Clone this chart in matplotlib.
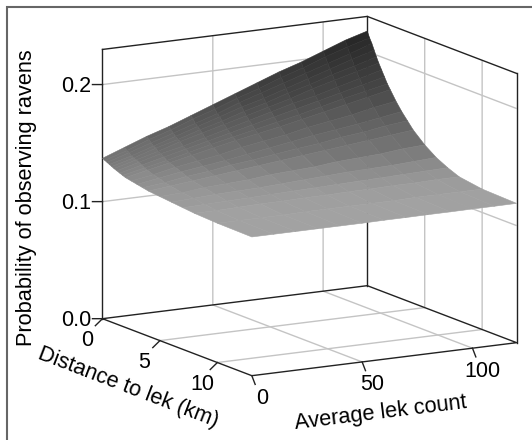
import numpy as np
import matplotlib
matplotlib.use('Agg')
import matplotlib.pyplot as plt
from matplotlib.colors import LinearSegmentedColormap
from matplotlib.patches import Rectangle
from mpl_toolkits.mplot3d import proj3d

plt.rcParams['font.family'] = ['Liberation Sans', 'DejaVu Sans']
plt.rcParams['grid.color'] = '#c4c4c4'
plt.rcParams['grid.linewidth'] = 1.0

# values
distance = [0, .2, .4, .6, .8, 1, 1.25, 1.5, 1.75, 2, 2.5, 3, 3.5, 4, 5, 6, 7, 8, 10, 13]
count = [0, 10, 20, 30, 40, 50, 60, 70, 80, 90, 100, 110, 120]
prob = [
    [.137, .144, .151, .157, .164, .171, .178, .185, .192, .198, .205, .212, .2175],
    [.136, .142, .149, .155, .162, .168, .175, .181, .188, .194, .201, .207, .2125],
    [.135, .141, .147, .153, .159, .165, .172, .178, .184, .190, .196, .202, .2085],
    [.134, .139, .145, .151, .157, .163, .169, .174, .180, .186, .192, .198, .2035],
    [.133, .138, .144, .149, .155, .160, .166, .171, .177, .182, .188, .193, .1985],
    [.132, .137, .142, .148, .153, .158, .163, .168, .173, .179, .184, .189, .194],
    [.131, .136, .141, .145, .150, .155, .160, .165, .170, .174, .179, .184, .189],
    [.130, .1345, .139, .1435, .148, .1525, .157, .1615, .166, .1705, .175, .1795, .184],
    [.129, .133, .137, .1415, .146, .150, .154, .158, .162, .1665, .171, .175, .179],
    [.128, .132, .136, .140, .144, .148, .1515, .155, .159, .163, .167, .171, .175],
    [.127, .130, .134, .137, .140, .144, .147, .150, .154, .157, .160, .164, .167],
    [.126, .129, .132, .1345, .137, .140, .143, .146, .149, .1515, .154, .157, .160],
    [.125, .127, .130, .132, .135, .137, .1395, .142, .144, .147, .149, .152, .154],
    [.124, .126, .128, .130, .132, .134, .136, .138, .140, .142, .144, .146, .148],
    [.123, .124, .126, .127, .128, .130, .131, .132, .134, .135, .136, .138, .139],
    [.122, .123, .124, .1245, .125, .126, .127, .128, .129, .1295, .130, .131, .132],
    [.121, .1215, .122, .1225, .123, .1235, .124, .1245, .125, .1255, .126, .1265, .127],
    [.120, .120, .1205, .121, .121, .1215, .1215, .122, .122, .1225, .1225, .123, .123],
    [.119, .119, .119, .119, .1195, .1195, .1195, .1195, .1195, .120, .120, .120, .120],
    [.1185, .1185, .1185, .1185, .1185, .1185, .1187, .1187, .1188, .1188, .1189, .1189, .119],
]
dist_ticks = [0, 5, 10]
count_ticks = [0, 50, 100]
prob_ticks = [0.0, 0.1, 0.2]
prob_labels = ['0.0', '0.1', '0.2']
dist_max = 13
count_max = 120
prob_max = 0.23

line_col = '#222222'
greys = LinearSegmentedColormap.from_list('greys', [(0, '#a2a2a2'), (.18, '#777777'), (.54, '#4a4a4a'), (1, '#222222')])

fig = plt.figure(figsize=(5.32, 4.40), dpi=100)
side = 440
ax = fig.add_axes([83.6 / 532, 18 / 440, side / 532, side / 440], projection='3d', proj_type='ortho')
ax.view_init(elev=12.6, azim=-29.75)
ax.set_box_aspect((300, 304, 275), zoom=1.1244)
ax.patch.set_alpha(0)
ax.computed_zorder = False

# box edges, behind the surface
floor_d = [0, dist_max, dist_max, 0, 0]
floor_c = [0, 0, count_max, count_max, 0]
ax.plot(floor_d, floor_c, [0] * 5, color=line_col, lw=1, zorder=1)
ax.plot([0, 0, dist_max], [0, count_max, count_max], [prob_max] * 3, color=line_col, lw=1, zorder=1)
for d, c in [(0, 0), (0, count_max), (dist_max, count_max)]:
    ax.plot([d, d], [c, c], [0, prob_max], color=line_col, lw=1, zorder=1)

X, Y = np.meshgrid(distance, count, indexing='ij')
Z = np.array(prob)
# facecolors also sets the edge colour, that hides the seams between the cells
face_z = (Z[:-1, :-1] + Z[1:, 1:]) / 2
ax.plot_surface(X, Y, Z, rstride=1, cstride=1, facecolors=greys((face_z - 0.119) / 0.1),
                linewidth=0.4, antialiased=True, shade=False, zorder=2)

# tick marks, the picture has them square to the edges on screen
for d in dist_ticks:
    ax.plot([d, d + 1.05], [0, -8.7], [0, 0], color=line_col, lw=1)
for c in count_ticks:
    ax.plot([dist_max, dist_max + 1.57], [c, c - 6.66], [0, 0], color=line_col, lw=1)
for p in prob_ticks:
    ax.plot([0, -0.215], [0, -3.42], [p, p], color=line_col, lw=1)

ax.set_xticks(dist_ticks[1:])
ax.set_yticks(count_ticks[1:])
ax.set_zticks(prob_ticks[1:])
for axis in (ax.xaxis, ax.yaxis, ax.zaxis):
    axis.set_pane_color('white')
    axis.pane.set_edgecolor('white')
    axis.line.set_visible(False)
    axis.set_tick_params(label1On=False)
    axis._axinfo['tick']['inward_factor'] = 0
    axis._axinfo['tick']['outward_factor'] = 0

ax.set_xlim(0, dist_max, view_margin=0)
ax.set_ylim(0, count_max, view_margin=0)
ax.set_zlim(0, prob_max, view_margin=0)


def tick_label(d, c, p, text):
    # limits have to be final here, the label goes in as a plain 2d text
    x2, y2, _ = proj3d.proj_transform(d, c, p, ax.get_proj())
    ax.text2D(x2, y2, text, transform=ax.transData, ha='center', va='center', fontsize=15.5)


for d in dist_ticks:
    tick_label(d + 3.45, -24.9, 0, str(d))
for c in count_ticks:
    tick_label(dist_max + 4.18, c - 17.2, 0, str(c))
for p, lab in zip(prob_ticks, prob_labels):
    tick_label(-0.22, -10.7, p, lab)

fig.text(128 / 532, 1 - 388 / 440, 'Distance to lek (km)', rotation=-21, ha='center', va='center',
         rotation_mode='anchor', fontsize=15.7)
fig.text(381 / 532, 1 - 413 / 440, 'Average lek count', rotation=7, ha='center', va='center',
         rotation_mode='anchor', fontsize=15.7)
fig.text(27 / 532, 1 - 198 / 440, 'Probability of observing ravens', rotation=90, ha='center', va='center',
         fontsize=15.7)

# grey frame round the figure, cut off at the right and bottom
fig.add_artist(Rectangle((7 / 532, -0.2), 1.2, 1.2 - 7 / 440, transform=fig.transFigure,
                         fill=False, edgecolor='#666666', linewidth=1.5))

fig.savefig('out.png', dpi=100)
